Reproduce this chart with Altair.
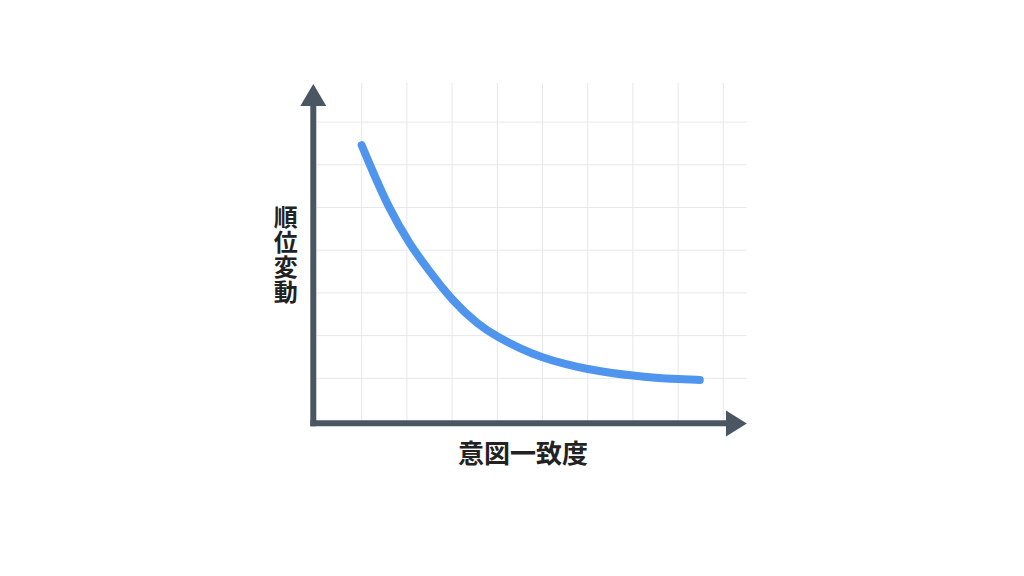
import altair as alt
import pandas as pd

# curve data
curve_x = [1.0, 1.18, 1.59, 2.07, 2.47, 3.0, 3.58, 4.0, 4.5, 5.0, 5.5, 6.0, 6.5, 7.0, 7.5, 8.0, 8.48]
curve_y = [6.46, 6.0, 5.0, 4.12, 3.55, 2.82, 2.25, 1.97, 1.70, 1.48, 1.33, 1.21, 1.13, 1.06, 1.01, 0.98, 0.96]

# grid positions
grid_x = [1, 2, 3, 4, 5, 6, 7, 8, 9]
grid_y = [1, 2, 3, 4, 5, 6, 7]

x_title = "意図一致度"
y_title = "順位変動"

FONT = "Noto Sans CJK JP"
AXIS_COLOR = "#4a5662"
LINE_COLOR = "#4f95ee"
GRID_COLOR = "#e6e8eb"
TEXT_COLOR = "#222222"

XS = alt.Scale(domain=[0, 10], nice=False, zero=False)
YS = alt.Scale(domain=[0, 8], nice=False, zero=False)

curve_df = pd.DataFrame({"x": curve_x, "y": curve_y})
gx_df = pd.DataFrame({"x": grid_x, "y0": [0] * len(grid_x), "y1": [7.92] * len(grid_x)})
gy_df = pd.DataFrame({"y": grid_y, "x0": [0] * len(grid_y), "x1": [9.52] * len(grid_y)})

vgrid = alt.Chart(gx_df).mark_rule(color=GRID_COLOR, strokeWidth=1).encode(
    x=alt.X("x:Q", scale=XS, axis=None),
    y=alt.Y("y0:Q", scale=YS, axis=None),
    y2="y1:Q",
)
hgrid = alt.Chart(gy_df).mark_rule(color=GRID_COLOR, strokeWidth=1).encode(
    y=alt.Y("y:Q", scale=YS, axis=None),
    x=alt.X("x0:Q", scale=XS, axis=None),
    x2="x1:Q",
)

# axis lines
yaxis_df = pd.DataFrame({"x": [-0.071], "y0": [-0.124], "y1": [7.5]})
xaxis_df = pd.DataFrame({"y": [-0.054], "x0": [-0.137], "x1": [9.25]})
yaxis = alt.Chart(yaxis_df).mark_rule(color=AXIS_COLOR, strokeWidth=6).encode(
    x=alt.X("x:Q", scale=XS, axis=None),
    y=alt.Y("y0:Q", scale=YS, axis=None),
    y2="y1:Q",
)
xaxis = alt.Chart(xaxis_df).mark_rule(color=AXIS_COLOR, strokeWidth=6).encode(
    y=alt.Y("y:Q", scale=YS, axis=None),
    x=alt.X("x0:Q", scale=XS, axis=None),
    x2="x1:Q",
)

up_df = pd.DataFrame({"x": [-0.071], "y": [7.635]})
right_df = pd.DataFrame({"x": [9.29], "y": [-0.059]})
up_arrow = alt.Chart(up_df).mark_point(
    shape="M-1,0.85 L0,-0.85 L1,0.85 Z", size=676, filled=True,
    color=AXIS_COLOR, opacity=1, strokeWidth=0,
).encode(x=alt.X("x:Q", scale=XS, axis=None), y=alt.Y("y:Q", scale=YS, axis=None))
right_arrow = alt.Chart(right_df).mark_point(
    shape="M-0.8,-1 L0.8,0 L-0.8,1 Z", size=676, filled=True,
    color=AXIS_COLOR, opacity=1, strokeWidth=0,
).encode(x=alt.X("x:Q", scale=XS, axis=None), y=alt.Y("y:Q", scale=YS, axis=None))

curve = alt.Chart(curve_df).mark_line(
    color=LINE_COLOR, strokeWidth=8, strokeCap="round", strokeJoin="round",
    interpolate="basis",
).encode(
    x=alt.X("x:Q", scale=XS, axis=None),
    y=alt.Y("y:Q", scale=YS, axis=None),
)

xt_df = pd.DataFrame({"x": [4.57], "y": [-0.79], "t": [x_title]})
yt_df = pd.DataFrame({"x": [-0.68], "y": [5.01], "t": ["\n".join(list(y_title))]})
xtitle = alt.Chart(xt_df).mark_text(
    font=FONT, fontSize=26, fontWeight="bold", color=TEXT_COLOR,
    align="center", baseline="middle",
).encode(x=alt.X("x:Q", scale=XS, axis=None), y=alt.Y("y:Q", scale=YS, axis=None), text="t:N")
ytitle = alt.Chart(yt_df).mark_text(
    font=FONT, fontSize=24, fontWeight="bold", color=TEXT_COLOR,
    align="center", baseline="top", lineBreak="\n", lineHeight=25,
).encode(x=alt.X("x:Q", scale=XS, axis=None), y=alt.Y("y:Q", scale=YS, axis=None), text="t:N")

chart = alt.layer(
    vgrid, hgrid, curve, yaxis, xaxis, up_arrow, right_arrow, xtitle, ytitle
).properties(
    width=452, height=341.6,
    autosize=alt.AutoSizeParams(type="none"),
    padding={"left": 308.5, "top": 71.4, "right": 240, "bottom": 130},
    background="white",
).configure_view(stroke=None)

chart.save("out.html", embed_options={"renderer": "svg", "actions": False})
